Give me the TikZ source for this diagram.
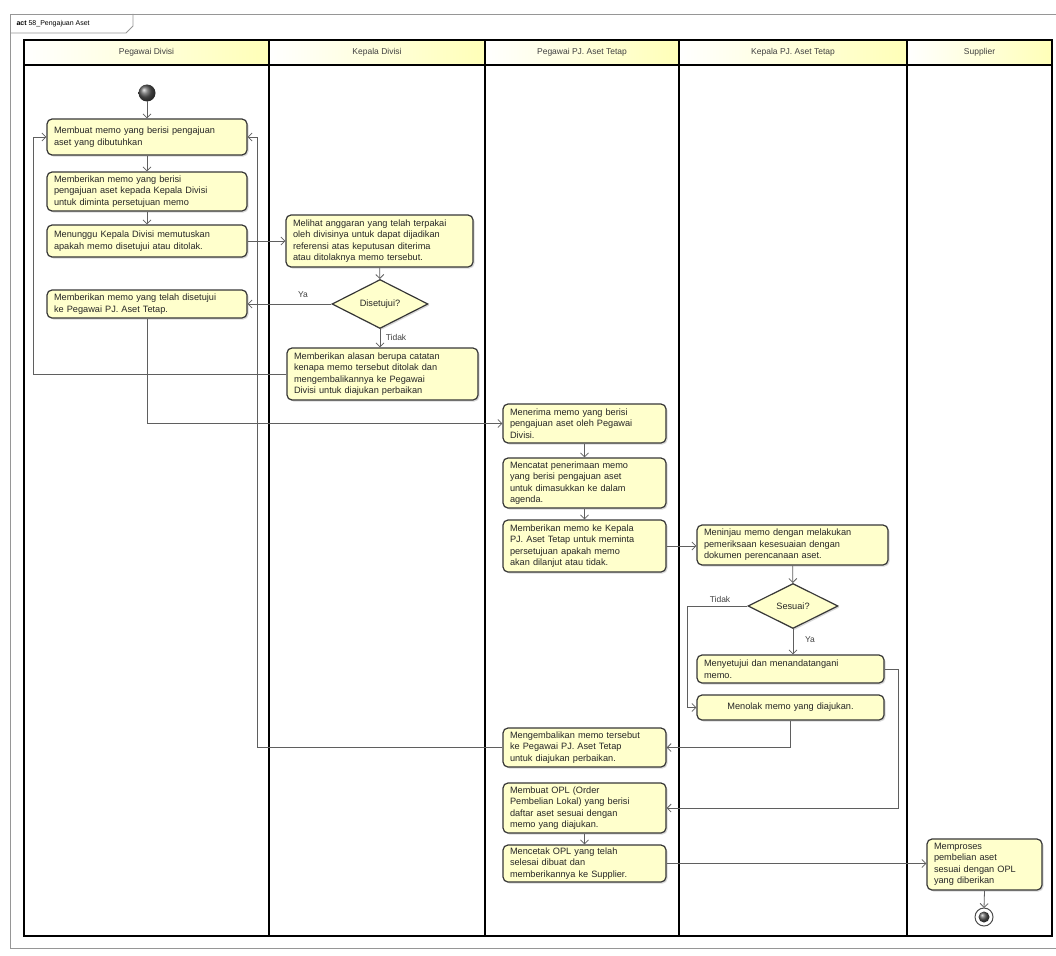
\documentclass[tikz,border=0pt]{standalone}
\usepackage{fontspec}
\setmainfont{Liberation Sans}
\usetikzlibrary{arrows.meta,shapes.geometric,shadows}
\definecolor{actfill}{RGB}{255,255,204}
\definecolor{actline}{RGB}{55,55,55}
\definecolor{connline}{RGB}{95,95,95}
\definecolor{framegray}{RGB}{150,150,150}
\tikzset{
  act/.style={draw=actline, line width=1.2pt, rounded corners=5pt, fill=actfill,
    align=left, inner xsep=7pt, inner ysep=2pt, font=\fontsize{9.2}{11.5}\selectfont,
    text=black!85,
    drop shadow={shadow xshift=1.5pt, shadow yshift=-1.5pt, opacity=.3}},
  keputusan/.style={diamond, draw=actline, line width=1.2pt, fill=actfill, inner sep=0pt,
    font=\fontsize{9.2}{11.5}\selectfont, text=black!85,
    drop shadow={shadow xshift=1.5pt, shadow yshift=-1.5pt, opacity=.3}},
  alur/.style={draw=connline, line width=.8pt, -{Straight Barb[length=4pt,width=8pt]}},
  lajur/.style={font=\fontsize{8.5}{10}\selectfont, text=black!75},
  label kecil/.style={font=\fontsize{8.5}{10}\selectfont, text=black!75},
}
\begin{document}
\begin{tikzpicture}[x=1pt, y=-1pt]
    \useasboundingbox (0,0) rectangle (1056,955);

    % bingkai diagram
    \draw[framegray, line width=.8pt] (1056,14) -- (10,14) -- (10,948) -- (1056,948);
    \draw[framegray, line width=.8pt] (10,33) -- (126,33) -- (133,26) -- (133,14);
    \node[font=\fontsize{7}{9}\selectfont, anchor=west] (judul) at (13,24) {\textbf{act} 58\_Pengajuan Aset};

    % jalur (swimlane)
    \foreach \xa/\xb/\nama in {24/269/Pegawai Divisi, 269/485/Kepala Divisi, 485/679/Pegawai PJ. Aset Tetap,
                              679/907/Kepala PJ. Aset Tetap, 907/1052/Supplier} {
        \shade[left color=white, right color=yellow!28] (\xa,40) rectangle (\xb,65);
        \node[lajur] at ({(\xa+\xb)/2},52.5) {\nama};
    }
    \draw[black, line width=1.3pt] (24,40) rectangle (1052,936);
    \draw[black, line width=1.3pt] (24,65) -- (1052,65);
    \foreach \xs in {269,485,679,907}
        \draw[black, line width=1.3pt] (\xs,40) -- (\xs,936);

    % Pegawai Divisi
    \shade[ball color=black!65] (147,93) circle (8.5);
    \coordinate (mulai) at (147,101.5);
    \node[act, text width=186pt, minimum height=36pt] (a1) at (147,137)
        {Membuat memo yang berisi pengajuan\\aset yang dibutuhkan};
    \node[act, text width=186pt, minimum height=39pt] (a2) at (147,191.5)
        {Memberikan memo yang berisi\\pengajuan aset kepada Kepala Divisi\\untuk diminta persetujuan memo};
    \node[act, text width=186pt, minimum height=32pt] (a3) at (147,241)
        {Menunggu Kepala Divisi memutuskan\\apakah memo disetujui atau ditolak.};
    \node[act, text width=186pt, minimum height=28pt] (a4) at (147,304)
        {Memberikan memo yang telah disetujui\\ke Pegawai PJ. Aset Tetap.};

    % Kepala Divisi
    \node[act, text width=173pt, minimum height=52pt] (b1) at (379.5,241)
        {Melihat anggaran yang telah terpakai\\oleh divisinya untuk dapat dijadikan\\referensi atas keputusan diterima\\atau ditolaknya memo tersebut.};
    \node[keputusan, minimum width=96pt, minimum height=37pt] (bk) at (380,304) {Disetujui?};
    \node[act, text width=177pt, minimum height=52pt] (b3) at (382.5,374)
        {Memberikan alasan berupa catatan\\kenapa memo tersebut ditolak dan\\mengembalikannya ke Pegawai\\Divisi untuk diajukan perbaikan};

    % Pegawai PJ. Aset Tetap
    \node[act, text width=149pt, minimum height=39pt] (c1) at (584.5,423.5)
        {Menerima memo yang berisi\\pengajuan aset oleh Pegawai\\Divisi.};
    \node[act, text width=149pt, minimum height=50pt] (c2) at (584.5,483)
        {Mencatat penerimaan memo\\yang berisi pengajuan aset\\untuk dimasukkan ke dalam\\agenda.};
    \node[act, text width=149pt, minimum height=52pt] (c3) at (584.5,546)
        {Memberikan memo ke Kepala\\PJ. Aset Tetap untuk meminta\\persetujuan apakah memo\\akan dilanjut atau tidak.};
    \node[act, text width=149pt, minimum height=39pt] (c4) at (584.5,747.5)
        {Mengembalikan memo tersebut\\ke Pegawai PJ. Aset Tetap\\untuk diajukan perbaikan.};
    \node[act, text width=149pt, minimum height=50pt] (c5) at (584.5,808)
        {Membuat OPL (Order\\Pembelian Lokal) yang berisi\\daftar aset sesuai dengan\\memo yang diajukan.};
    \node[act, text width=149pt, minimum height=37pt] (c6) at (584.5,863.5)
        {Mencetak OPL yang telah\\selesai dibuat dan\\memberikannya ke Supplier.};

    % Kepala PJ. Aset Tetap
    \node[act, text width=177pt, minimum height=40pt] (d1) at (792.5,545)
        {Meninjau memo dengan melakukan\\pemeriksaan kesesuaian dengan\\dokumen perencanaan aset.};
    \node[keputusan, minimum width=90pt, minimum height=45pt] (dk) at (793,606) {Sesuai?};
    \node[act, text width=173pt, minimum height=28pt] (d2) at (790.5,669)
        {Menyetujui dan menandatangani\\memo.};
    \node[act, text width=173pt, minimum height=25pt, align=center] (d3) at (790.5,707.5)
        {Menolak memo yang diajukan.};

    % Supplier
    \node[act, text width=101pt, minimum height=51pt] (e1) at (984.5,864.5)
        {Memproses\\pembelian aset\\sesuai dengan OPL\\yang diberikan};
    \draw[black!70, line width=1pt, fill=white] (984,917) circle (9);
    \shade[ball color=black!65] (984,917) circle (5.5);
    \coordinate (selesai) at (984,908);

    % jalur balik
    \coordinate (kiri) at (33,0);
    \coordinate (kanan) at (257,0);
    \coordinate (tolakD) at (687,0);
    \coordinate (setujuD) at (898,0);

    % alur
    \draw[alur] (mulai) -- (a1.north);
    \draw[alur] (a1) -- (a2);
    \draw[alur] (a2) -- (a3);
    \draw[alur] (a3.east) -- (b1.west);
    \draw[alur] (b1) -- (bk);
    \draw[alur] (bk.west) -- (bk.west -| a4.east);
    \draw[alur] (bk.south) -- (bk.south |- b3.north);
    \draw[alur] (b3.west) -- (kiri |- b3.west) |- (a1.west);
    \draw[alur] (a4.south) |- (c1.west);
    \draw[alur] (c1) -- (c2);
    \draw[alur] (c2) -- (c3);
    \draw[alur] (c3.east) -- (c3.east -| d1.west);
    \draw[alur] (d1) -- (dk);
    \draw[alur] (dk.south) -- (dk.south |- d2.north);
    \draw[alur] (dk.west) -- (tolakD |- dk.west) |- (d3.west);
    \draw[alur] (d3.south) |- (c4.east);
    \draw[alur] (d2.east) -- (setujuD |- d2.east) |- (c5.east);
    \draw[alur] (c4.west) -- (kanan |- c4.west) |- (a1.east);
    \draw[alur] (c5) -- (c6);
    \draw[alur] (c6.east) -- (c6.east -| e1.west);
    \draw[alur] (e1.south) -- (selesai);

    % label cabang
    \node[label kecil] (ya1) at (303,295) {Ya};
    \node[label kecil] (tidak1) at (396,337) {Tidak};
    \node[label kecil] (tidak2) at (720,599) {Tidak};
    \node[label kecil] (ya2) at (810,640) {Ya};
\end{tikzpicture}
\end{document}
